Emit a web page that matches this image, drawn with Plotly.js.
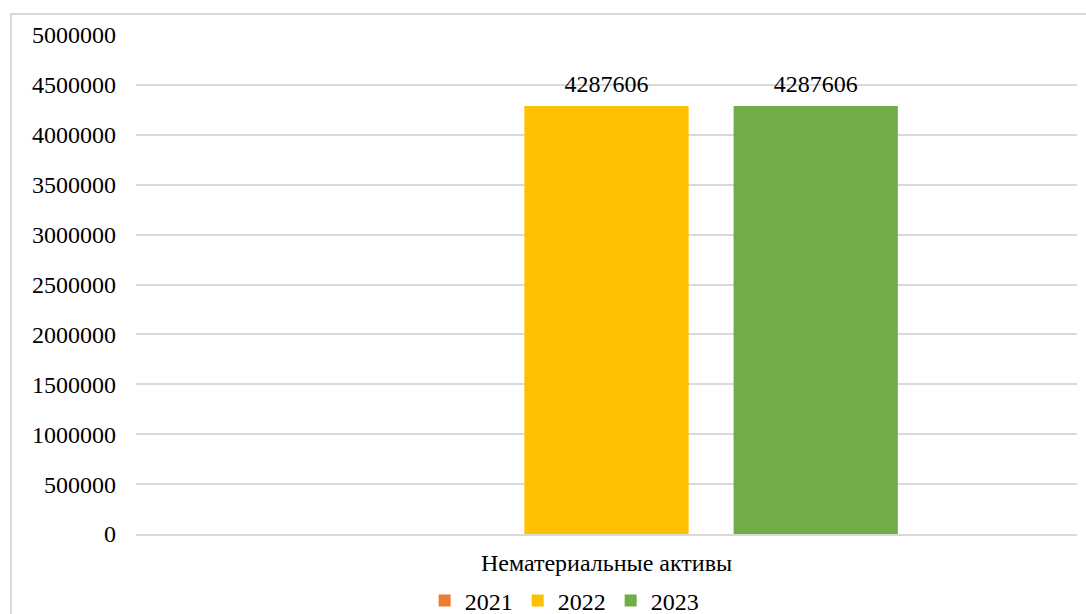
<!DOCTYPE html>
<html>
<head>
<meta charset="utf-8">
<script src="https://cdn.plot.ly/plotly-3.0.1.min.js"></script>
<style>
  html, body { margin:0; padding:0; background:#fff; width:1086px; height:614px; overflow:hidden; font-family:'Liberation Serif', serif; }
  #frame { position:absolute; left:10px; top:13px; width:1200px; height:700px; border:2px solid #d9d9d9; box-sizing:border-box; }
  #chart { position:absolute; left:0; top:0; width:1086px; height:614px; }
</style>
</head>
<body>
<div id="frame"></div>
<div id="chart"></div>
<script>
const categories = ["Нематериальные активы"];
const seriesNames = ["2021", "2022", "2023"];
const values2021 = [null];
const values2022 = [4287606];
const values2023 = [4287606];
const yTicks = [0, 500000, 1000000, 1500000, 2000000, 2500000, 3000000, 3500000, 4000000, 4500000, 5000000];

const colors = ["#ED7D31", "#FFC000", "#70AD47"];
const allValues = [values2021, values2022, values2023];

function mkFont() {
  return { family: "Liberation Serif", size: 24, color: "#000000" };
}

const bars = allValues.map((vals, i) => ({
  type: "bar",
  name: seriesNames[i],
  x: categories,
  y: vals,
  offsetgroup: seriesNames[i],
  marker: { color: colors[i] },
  hoverinfo: "skip"
}));

const labels = allValues.map((vals, i) => ({
  type: "scatter",
  mode: "markers+text",
  x: categories,
  y: vals,
  offsetgroup: seriesNames[i],
  marker: { size: 12, color: "rgba(0,0,0,0)" },
  text: vals.map(v => (v === null ? "" : String(v))),
  textposition: "top center",
  textfont: mkFont(),
  showlegend: false,
  cliponaxis: false,
  hoverinfo: "skip"
}));

const layout = {
  width: 1086,
  height: 614,
  margin: { l: 136, r: 9, t: 35, b: 80, autoexpand: false },
  paper_bgcolor: "rgba(0,0,0,0)",
  plot_bgcolor: "rgba(0,0,0,0)",
  font: mkFont(),
  barmode: "group",
  scattermode: "group",
  bargap: 0.333,
  bargroupgap: 0.215,
  showlegend: true,
  legend: {
    orientation: "h",
    x: 0.455,
    xanchor: "center",
    y: -0.134,
    yanchor: "middle",
    font: mkFont(),
    itemwidth: 30,
    traceorder: "normal"
  },
  xaxis: {
    type: "category",
    showgrid: false,
    showline: true,
    linecolor: "#d9d9d9",
    linewidth: 1.5,
    ticks: "",
    ticklabelstandoff: 6,
    tickfont: mkFont()
  },
  yaxis: {
    range: [0, 5000000],
    tickvals: yTicks,
    ticktext: yTicks.map(String),
    showgrid: true,
    gridcolor: "#d9d9d9",
    gridwidth: 1.5,
    zeroline: false,
    showline: false,
    ticks: "",
    ticklabelstandoff: 19,
    tickfont: mkFont()
  }
};

Plotly.newPlot("chart", bars.concat(labels), layout, { displayModeBar: false });
</script>
</body>
</html>
